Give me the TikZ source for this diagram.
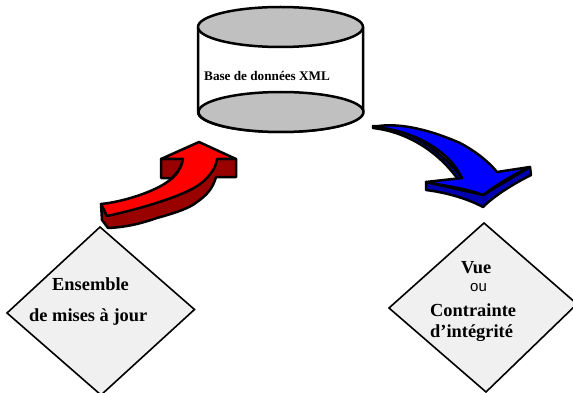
\documentclass[tikz,border=0pt]{standalone}
\usepackage{fontspec}
\setmainfont{Liberation Serif}
\newfontfamily\arialf{Liberation Sans}
\definecolor{cylgray}{HTML}{C0C0C0}
\definecolor{dgray}{HTML}{F0F0F0}
\definecolor{redtop}{HTML}{FF0000}
\definecolor{reddark}{HTML}{990000}
\definecolor{bluetop}{HTML}{0000FF}
\definecolor{bluedark}{HTML}{0000B0}
\tikzset{
 outl/.style={draw=black,line width=2.5pt,line join=round},
 disc/.style={outl,fill=cylgray},
 dia/.style={draw=black,line width=1.6pt,fill=dgray,line join=miter},
 lab/.style={inner sep=0pt,anchor=west},
 big/.style={lab,font=\bfseries\fontsize{18.4}{20}\selectfont},
}
\begin{document}
\begin{tikzpicture}[x=1pt,y=-1pt]
\useasboundingbox (0,0) rectangle (573,393);
% cylinder
\draw[outl,fill=white] (198,27) -- (198,112) arc[start angle=180,end angle=360,x radius=82.5,y radius=-20] -- (363,27) -- cycle;
\draw[disc] (281,112) ellipse[x radius=82.5,y radius=20];
\draw[disc] (280.5,27) ellipse[x radius=82.5,y radius=20];
\node[lab,font=\bfseries\fontsize{13.2}{15}\selectfont] (base) at (204,76) {Base de données XML};
% diamonds
\path[dia] (100,227) -- (194.5,309.5) -- (101,395) -- (7,313) -- cycle;
\path[dia] (484,223) -- (577,304) -- (486,392) -- (389,308) -- cycle;
% red arrow
\path[outl,fill=reddark] (101,204) -- (102,220) -- (108,228) .. controls (130,227) and (145,222) .. (157,218) .. controls (175,213) and (190,208) .. (197,202) .. controls (207,195) and (213,188) .. (216,177) -- (236,177) -- (236,159) -- (217,159) -- (208,175) -- (107,216) -- cycle;
\path[outl,fill=reddark] (161,159) -- (161,178) -- (172,178) .. controls (178,172) and (182,166) .. (183,159) -- cycle;
\path[outl,fill=redtop] (101,204) .. controls (122,202) and (155,192) .. (170,180) .. controls (178,174) and (182,166) .. (183,159) -- (161,159) -- (199,142) -- (236,159) -- (217,159) .. controls (216,170) and (205,183) .. (190,190) .. controls (170,200) and (135,210) .. (107,216) -- cycle;
% blue arrow
\path[outl,fill=bluedark] (426,182) -- (426,190) .. controls (450,193) and (470,200) .. (483,207) .. controls (495,195) and (515,183) .. (531,175) -- (530,167) -- (483,195) -- cycle;
\path[outl,fill=bluedark] (373,128) .. controls (408,132) and (438,152) .. (457,178) -- (462,178) .. controls (440,150) and (410,128) .. (373,126) -- cycle;
\path[outl,fill=bluetop] (373,127) .. controls (400,121) and (435,132) .. (460,143) .. controls (475,151) and (488,161) .. (497,172) -- (530,167) .. controls (512,175) and (495,186) .. (483,195) .. controls (465,188) and (445,186) .. (426,182) -- (462,178) .. controls (450,152) and (415,130) .. (373,127) -- cycle;
% labels
\node[big] (ens) at (52,284) {Ensemble};
\node[big] (maj) at (29,317) {de mises à jour};
\node[big] (vue) at (461,268) {Vue};
\node[lab,font=\arialf\fontsize{15}{17}\selectfont] (ou) at (470,288) {ou};
\node[big] (con) at (430,310) {Contrainte};
\node[big] (int) at (430,333) {d’intégrité};
\end{tikzpicture}
\end{document}
